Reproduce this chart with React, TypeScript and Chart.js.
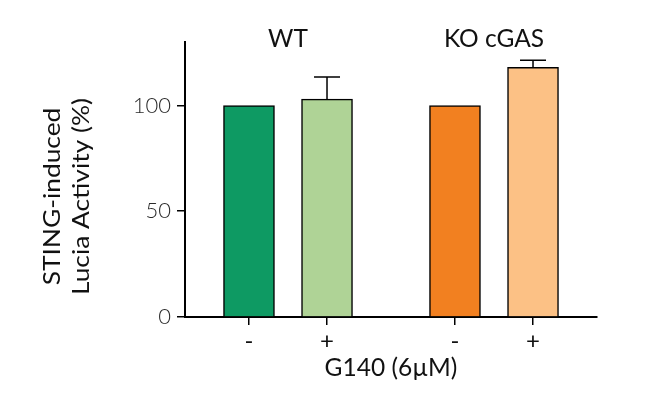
import React, { useEffect, useRef } from "react";
import { Chart, registerables } from "chart.js";

Chart.register(...registerables);

const groups = ["WT", "KO cGAS"];
const treatments = ["-", "+"];
const values = [100, 103, 100, 118];
const errors = [0, 10.5, 0, 3.4];
const yTicks = [0, 50, 100];
const yTitleLines = ["STING-induced", "Lucia Activity (%)"];
const xTitle = "G140 (6µM)";
const barColors = ["#0e9a63", "#afd396", "#f28020", "#fcc185"];

const GROUP_STRIDE = 2.64;
const X_MARGIN = 0.82;
const FONT = "Lato, 'Noto Sans', sans-serif";

const points = values.map((v, k) => {
  const g = Math.floor(k / treatments.length);
  const i = k % treatments.length;
  return { x: g * GROUP_STRIDE + i, y: v };
});
const tickLabelAt = (v: number) => {
  const k = points.findIndex((p) => Math.abs(p.x - v) < 1e-6);
  return k >= 0 ? treatments[k % treatments.length] : "";
};

const errorBarPlugin = {
  id: "errorBars",
  afterDatasetsDraw(chart: any) {
    const { ctx, scales } = chart;
    const xs = scales.x;
    const ys = scales.y;
    ctx.save();
    ctx.strokeStyle = "#000";
    ctx.lineWidth = 1.5;
    points.forEach((p, k) => {
      const e = errors[k];
      if (!e) return;
      const px = xs.getPixelForValue(p.x);
      const y0 = ys.getPixelForValue(p.y);
      const y1 = ys.getPixelForValue(p.y + e);
      ctx.beginPath();
      ctx.moveTo(px, y0);
      ctx.lineTo(px, y1);
      ctx.moveTo(px - 13, y1);
      ctx.lineTo(px + 13, y1);
      ctx.stroke();
    });
    ctx.restore();
  },
};

const labelsPlugin = {
  id: "labels",
  afterDraw(chart: any) {
    const { ctx, scales, chartArea } = chart;
    const xs = scales.x;
    ctx.save();
    ctx.fillStyle = "#111";
    ctx.font = `400 24.5px ${FONT}`;
    ctx.textAlign = "center";
    ctx.textBaseline = "middle";
    groups.forEach((g, gi) => {
      const first = points[gi * treatments.length].x;
      const last = points[gi * treatments.length + treatments.length - 1].x;
      const cx = xs.getPixelForValue((first + last) / 2);
      ctx.fillText(g, cx, chartArea.top - 3);
    });
    ctx.restore();

    // y-axis title (two lines, rotated)
    ctx.save();
    ctx.fillStyle = "#111";
    ctx.font = `400 23.5px ${FONT}`;
    ctx.textAlign = "center";
    ctx.textBaseline = "alphabetic";
    const cy = (chartArea.top + chartArea.bottom) / 2 + 17;
    ctx.translate(60, cy);
    ctx.rotate(-Math.PI / 2);
    ctx.scale(1.12, 1);
    yTitleLines.forEach((line, i) => {
      ctx.fillText(line, 0, i * 29);
    });
    ctx.restore();
  },
};

export default function App() {
  const ref = useRef<HTMLCanvasElement | null>(null);
  useEffect(() => {
    if (!ref.current) return;
    const lastX = points[points.length - 1].x;
    const chart = new Chart(ref.current, {
      type: "bar",
      data: {
        datasets: [
          {
            data: points,
            backgroundColor: barColors,
            borderColor: "#000",
            borderWidth: 1.5,
            barThickness: 51,
          },
        ],
      },
      options: {
        animation: false,
        responsive: false,
        maintainAspectRatio: false,
        layout: { padding: { top: 42, right: 60, left: 0, bottom: 0 } },
        plugins: {
          legend: { display: false },
          tooltip: { enabled: false },
        },
        scales: {
          x: {
            type: "linear",
            offset: false,
            min: -X_MARGIN,
            max: lastX + X_MARGIN,
            afterFit: (s: any) => {
              s.height = 79;
            },
            afterBuildTicks: (s: any) => {
              s.ticks = points.map((p) => ({ value: p.x }));
            },
            ticks: {
              autoSkip: false,
              maxRotation: 0,
              color: "#111",
              font: { family: FONT, size: 24, weight: 400 },
              padding: 2,
              callback: (v: any) => tickLabelAt(Number(v)),
            },
            grid: {
              display: true,
              offset: false,
              drawOnChartArea: false,
              drawTicks: true,
              tickLength: 8,
              color: "#000",
              lineWidth: 1.5,
            },
            border: { display: true, color: "#000", width: 2 },
            title: {
              display: true,
              text: xTitle,
              color: "#111",
              font: { family: FONT, size: 24.5, weight: 400 },
              padding: { top: 0, bottom: 13 },
            },
          },
          y: {
            min: 0,
            max: 130,
            afterFit: (s: any) => {
              s.width = 185;
            },
            afterBuildTicks: (s: any) => {
              s.ticks = yTicks.map((v) => ({ value: v }));
            },
            ticks: {
              color: "#2a2a2a",
              font: { family: FONT, size: 22, weight: 300 },
              padding: 6,
            },
            grid: {
              display: true,
              drawOnChartArea: false,
              drawTicks: true,
              tickLength: 8,
              color: "#000",
              lineWidth: 1.5,
            },
            border: { display: true, color: "#000", width: 2 },
            title: { display: false },
          },
        },
      },
      plugins: [errorBarPlugin, labelsPlugin],
    });
    return () => chart.destroy();
  }, []);
  return (
    <div style={{ position: "fixed", left: 0, top: 0, width: 657, height: 396, background: "#fff" }}>
      <canvas ref={ref} width={657} height={396} style={{ width: 657, height: 396 }} />
    </div>
  );
}
